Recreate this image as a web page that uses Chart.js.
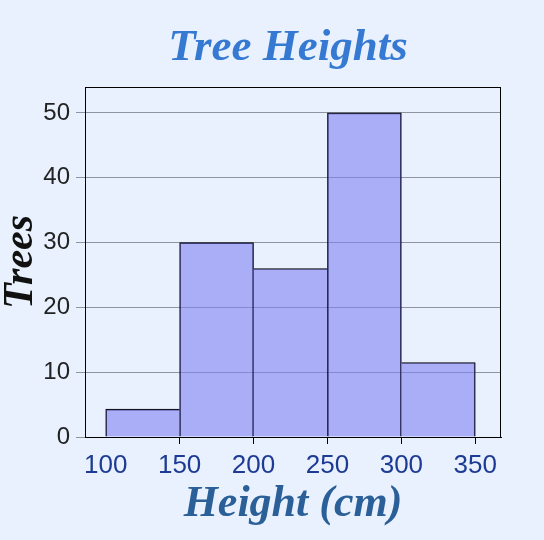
<!DOCTYPE html>
<html>
<head>
<meta charset="utf-8">
<script src="https://cdn.jsdelivr.net/npm/chart.js@4.4.1/dist/chart.umd.min.js"></script>
<style>
  html, body { margin: 0; padding: 0; background: #e8f1fd; }
  #wrap { width: 544px; height: 540px; }
</style>
</head>
<body>
<div id="wrap"><canvas id="c" width="544" height="540"></canvas></div>
<script>
// ---- data ----
const binEdges = [100, 150, 200, 250, 300, 350];
const treeCounts = [4.3, 30, 26, 50, 11.5];
const xTickValues = [100, 150, 200, 250, 300, 350];
const yTickValues = [0, 10, 20, 30, 40, 50];
const chartTitle = 'Tree Heights';
const xTitle = 'Height (cm)';
const yTitle = 'Trees';

const points = treeCounts.map((v, i) => ({ x: (binEdges[i] + binEdges[i + 1]) / 2, y: v }));

// each shared edge is drawn once, by the taller neighbour
function edgeWidths(ctx) {
  const i = ctx.dataIndex;
  const v = treeCounts[i];
  const prev = i > 0 ? treeCounts[i - 1] : -Infinity;
  const next = i < treeCounts.length - 1 ? treeCounts[i + 1] : -Infinity;
  return { top: 1, bottom: 0, left: prev < v ? 1 : 0, right: next < v ? 1 : 0 };
}

const frame = {
  id: 'frame',
  afterDatasetsDraw(chart) {
    const { ctx, chartArea: a } = chart;
    ctx.save();
    ctx.strokeStyle = '#000';
    ctx.lineWidth = 1;
    ctx.strokeRect(Math.round(a.left) + 0.5, Math.round(a.top) + 0.5, Math.round(a.right - a.left) - 1, Math.round(a.bottom - a.top));
    ctx.restore();
  }
};

new Chart(document.getElementById('c'), {
  type: 'bar',
  data: {
    datasets: [{
      data: points,
      backgroundColor: 'rgba(128,130,243,0.6)',
      borderColor: '#000',
      borderWidth: edgeWidths,
      borderSkipped: 'start',
      barPercentage: 1,
      categoryPercentage: 1
    }]
  },
  plugins: [frame],
  options: {
    responsive: false,
    animation: false,
    layout: { padding: { left: 32, right: 0, top: 0, bottom: 0 } },
    plugins: {
      legend: { display: false },
      tooltip: { enabled: false },
      title: {
        display: true,
        text: chartTitle,
        color: '#3679d2',
        font: { family: '"Liberation Serif", serif', size: 45, style: 'italic', weight: 'bold', lineHeight: 1.2 },
        padding: { top: 21, bottom: 12 }
      }
    },
    scales: {
      x: {
        type: 'linear',
        offset: false,
        min: 86,
        max: 367.4,
        afterBuildTicks: s => { s.ticks = xTickValues.map(v => ({ value: v })); },
        afterFit: s => { s.height = 103; },
        grid: {
          offset: false,
          drawOnChartArea: false,
          drawTicks: true,
          tickLength: 7,
          tickColor: ctx => (ctx.tick && ctx.tick.value === binEdges[0]) ? 'rgba(0,0,0,0)' : '#000'
        },
        border: { display: true, color: '#000' },
        ticks: {
          color: '#1d3b94',
          font: { family: '"Liberation Sans", Arial, sans-serif', size: 26 },
          padding: 6,
          maxRotation: 0,
          autoSkip: false
        },
        title: {
          display: true,
          text: xTitle,
          color: '#2a5f98',
          font: { family: '"Liberation Serif", serif', size: 44, style: 'italic', weight: 'bold', lineHeight: 1 },
          padding: { top: 0, bottom: 13 }
        }
      },
      y: {
        min: 0,
        max: 54,
        afterBuildTicks: s => { s.ticks = yTickValues.map(v => ({ value: v })); },
        afterFit: s => { s.width = 53; },
        grid: {
          color: '#8e959e',
          lineWidth: 1,
          drawTicks: true,
          tickLength: 9,
          tickColor: '#8e959e'
        },
        border: { display: true, color: '#000' },
        ticks: {
          color: '#222',
          font: { family: '"Liberation Sans", Arial, sans-serif', size: 24 },
          padding: 6
        },
        title: {
          display: true,
          text: yTitle,
          color: '#111',
          font: { family: '"Liberation Serif", serif', size: 42, style: 'italic', weight: 'bold', lineHeight: 1 },
          padding: { top: -32, bottom: 0 }
        }
      },
      yRight: {
        type: 'linear',
        position: 'right',
        display: true,
        afterFit: s => { s.width = 43; },
        grid: { display: false, drawTicks: false },
        border: { display: false },
        ticks: { display: false }
      }
    }
  }
});
</script>
</body>
</html>
